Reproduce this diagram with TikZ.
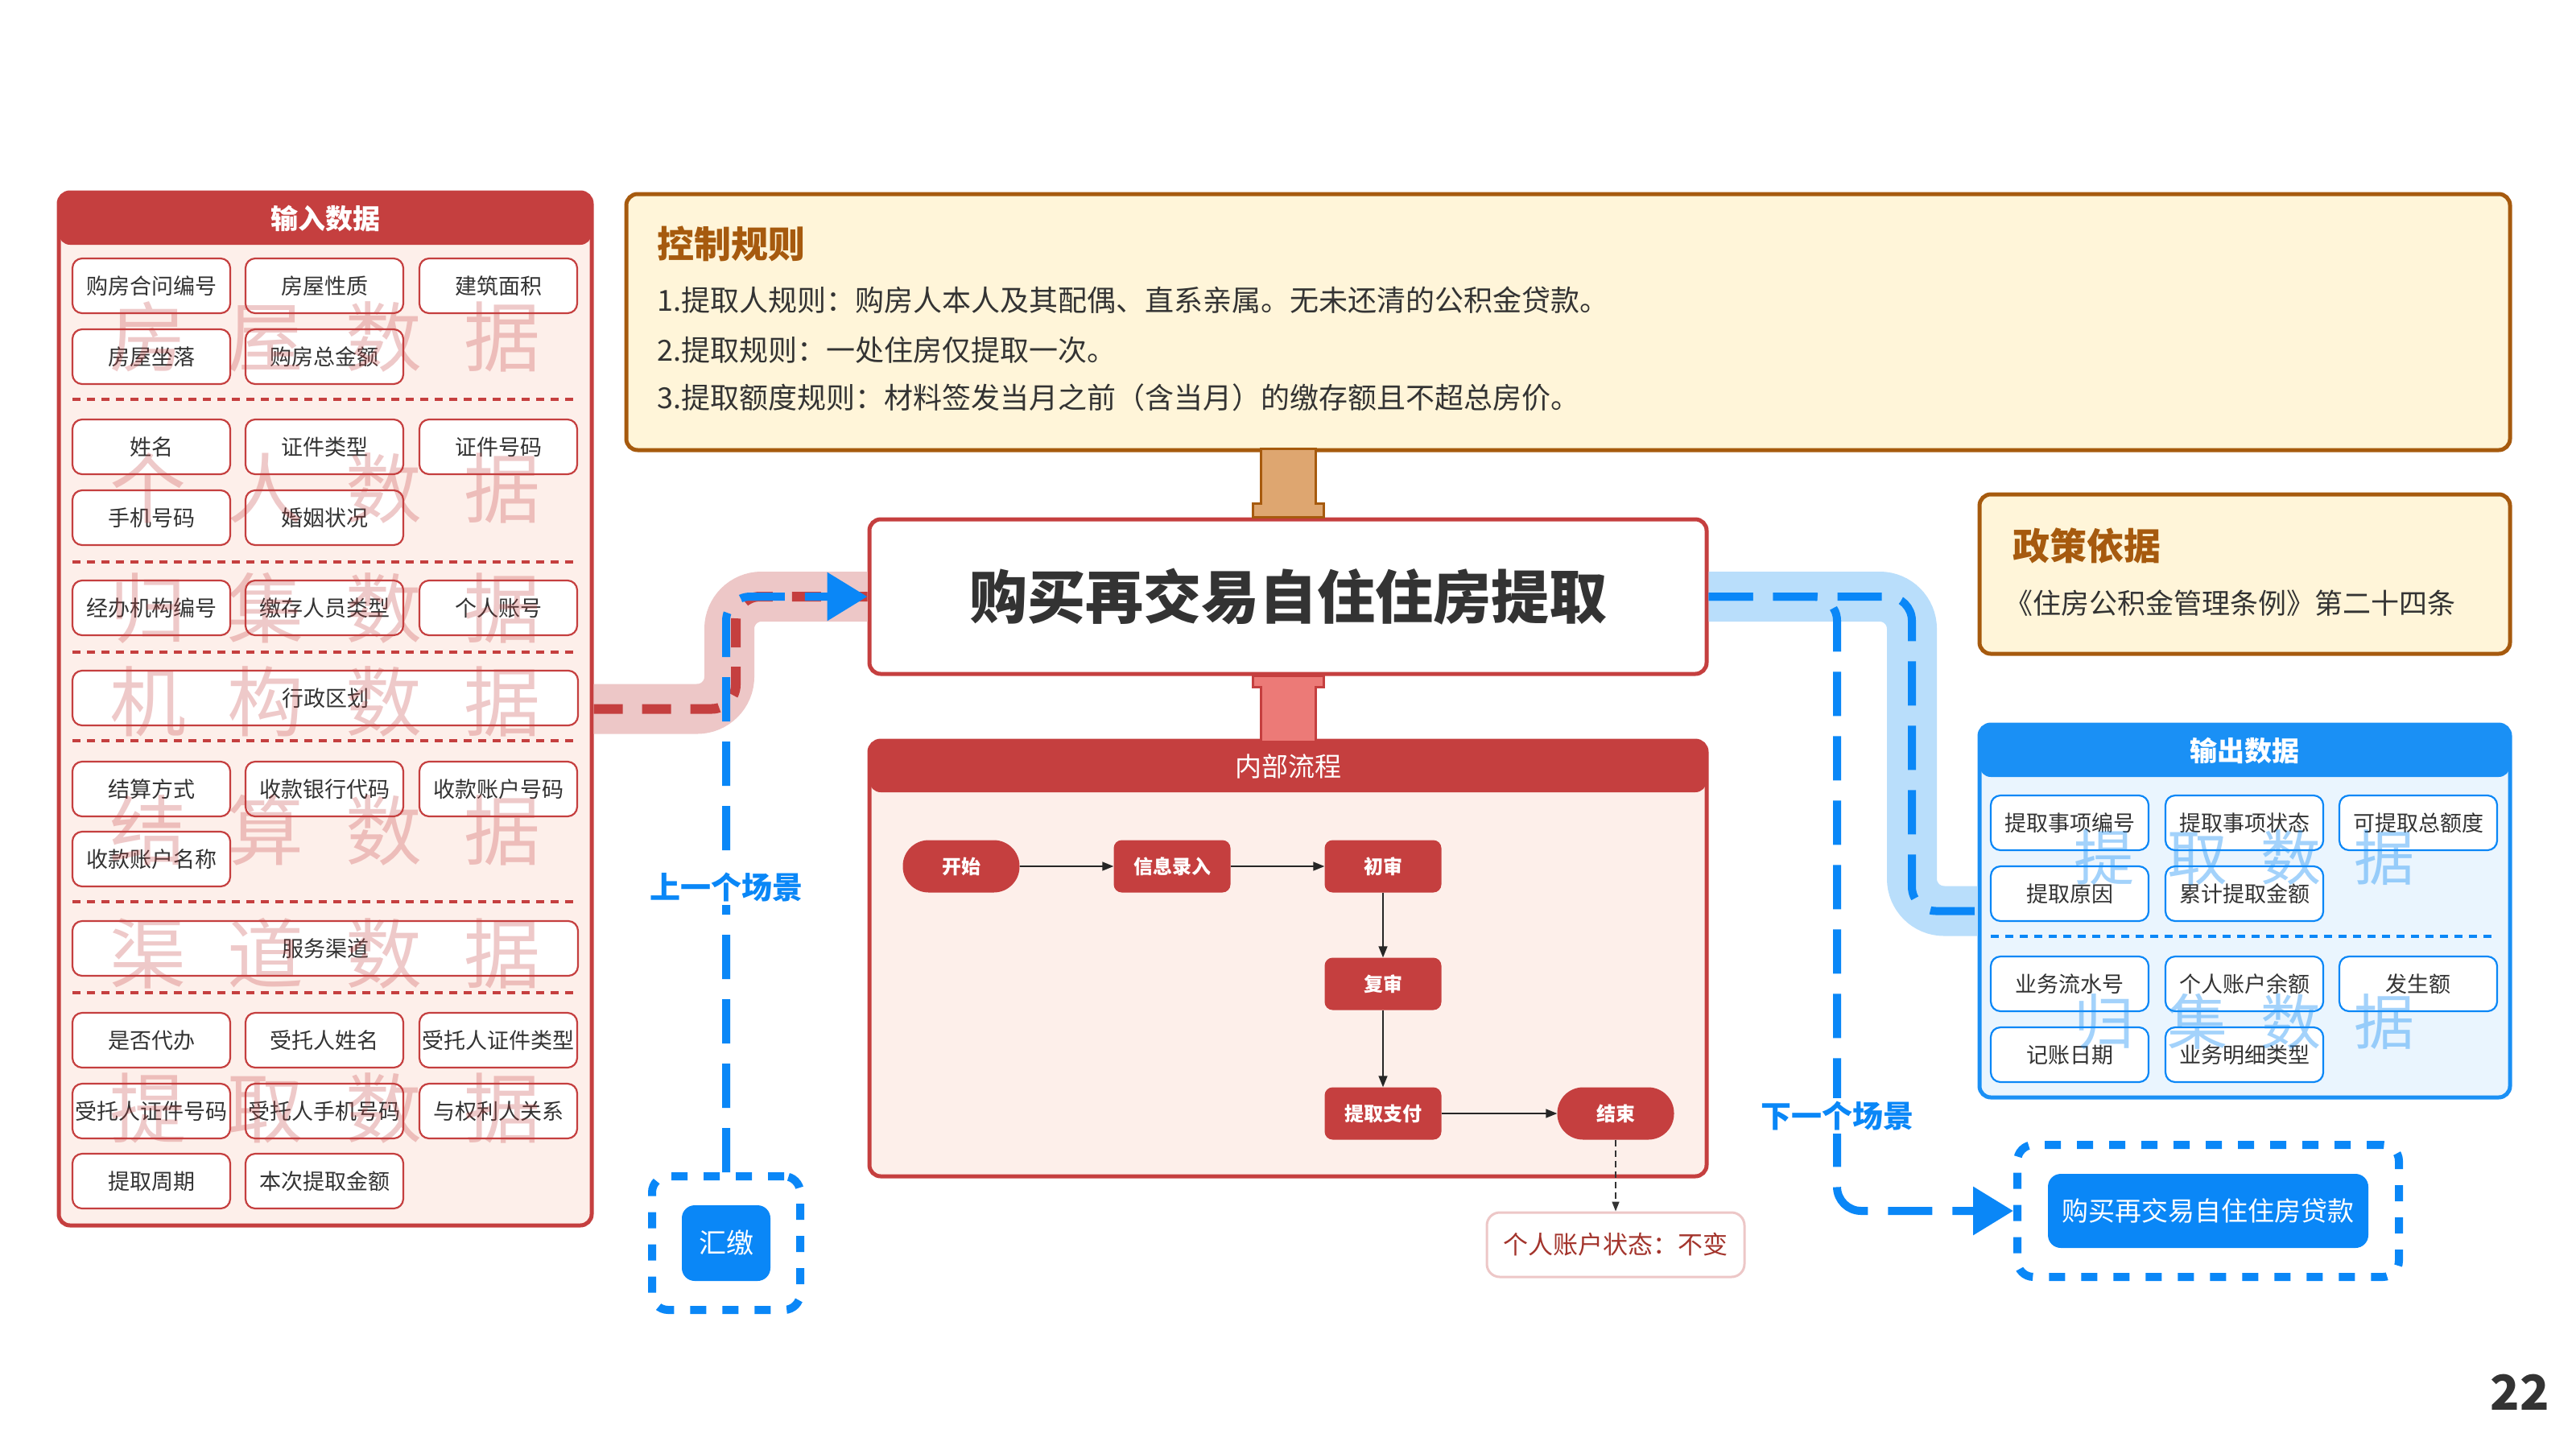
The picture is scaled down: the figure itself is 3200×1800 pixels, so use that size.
\documentclass[tikz,border=0pt]{standalone}
\usepackage{fontspec}
\newfontfamily\cjk{Noto Sans CJK SC}
\usetikzlibrary{arrows.meta}
\definecolor{redmain}{HTML}{C53F3F}
\definecolor{redlight}{HTML}{FDEFEA}
\definecolor{pinkband}{HTML}{EDC7C7}
\definecolor{salmon}{HTML}{EC7A77}
\definecolor{brownc}{HTML}{A65A0E}
\definecolor{tanc}{HTML}{DEA670}
\definecolor{yellowc}{HTML}{FFF5D9}
\definecolor{bluemain}{HTML}{0A87F7}
\definecolor{bluehead}{HTML}{1A90F5}
\definecolor{bluelight}{HTML}{EAF5FE}
\definecolor{blueband}{HTML}{B9DEFB}
\definecolor{txt}{HTML}{333333}
\definecolor{statustxt}{HTML}{A3342C}
\newcommand\myfs[1]{\fontsize{#1}{#1}\selectfont}
\begin{document}
\begin{tikzpicture}[x=1pt,y=-1pt,
 panel/.style={rounded corners=14, line width=5, inner sep=0},
 item/.style={draw=redmain, line width=2.2, fill=white, rounded corners=12, minimum width=196, minimum height=68, inner sep=0, font=\cjk\myfs{27}, text=txt},
 wideitem/.style={item, minimum width=628},
 oitem/.style={item, draw=bluemain},
 wmr/.style={font=\cjk\myfs{95}, text=redmain, opacity=0.28, inner sep=0},
 wmb/.style={font=\cjk\myfs{75}, text=bluehead, opacity=0.4, inner sep=0},
 sepr/.style={redmain, line width=4, dash pattern=on 10pt off 8pt},
 sepb/.style={bluemain, line width=4, dash pattern=on 10pt off 8pt},
 proc/.style={fill=redmain, rounded corners=10, minimum width=145, minimum height=65, inner sep=0, text=white, font=\cjk\bfseries\myfs{24}},
 term/.style={proc, rounded corners=32},
 parr/.style={-{Triangle[length=14pt,width=11pt]}, line width=1.5, black!85},
 bdash/.style={bluemain, line width=10, dash pattern=on 55pt off 25pt, rounded corners=30},
 rdash/.style={redmain, line width=12, dash pattern=on 36pt off 24pt, rounded corners=30},
 bigtip/.style={-{Triangle[length=50pt,width=58pt]}},
 hdr/.style={text=white, font=\cjk\bfseries\myfs{34}},
 scen/.style={text=bluemain, font=\cjk\bfseries\myfs{38}, fill=white, inner sep=4},
 dbox/.style={draw=bluemain, line width=10, dash pattern=on 20pt off 20pt, rounded corners=20, minimum width=#1, minimum height=164, inner sep=0},
 sbox/.style={fill=bluemain, rounded corners=16, text=white, inner sep=0, font=\cjk\myfs{33}},
 rule/.style={anchor=west, text=txt, font=\cjk\myfs{36}, inner sep=0},
 rtitle/.style={anchor=west, text=brownc, font=\cjk\bfseries\myfs{46}, inner sep=0}
]
\useasboundingbox (0,0) rectangle (3200,1800);
\fill[white] (0,0) rectangle (3200,1800);

% ---------- main title box ----------
\node[draw=redmain, line width=5, fill=white, rounded corners=14, minimum width=1040, minimum height=192, inner sep=0] (title) at (1600,741) {};
\node[text=txt, font=\cjk\bfseries\myfs{72}] (titletext) at (title.center) {购买再交易自住住房提取};

% ---------- control rules ----------
\node[draw=brownc, line width=5, fill=yellowc, rounded corners=14, minimum width=2340, minimum height=318, inner sep=0] (ctrl) at (1948,400) {};
\node[rtitle] (ctrltitle) at (816,303) {控制规则};
\node[rule] (rule1) at (816,373) {1.提取人规则：购房人本人及其配偶、直系亲属。无未还清的公积金贷款。};
\node[rule] (rule2) at (816,435) {2.提取规则：一处住房仅提取一次。};
\node[rule] (rule3) at (816,494) {3.提取额度规则：材料签发当月之前（含当月）的缴存额且不超总房价。};

% stubs
\draw[brownc, line width=3, fill=tanc] (title.north) ++(-44,0) -- ++(88,0) -- ++(0,-17) -- ++(-10,0) -- ++(0,-68) -- ++(-68,0) -- ++(0,68) -- ++(-10,0) -- cycle;

% ---------- policy ----------
\node[draw=brownc, line width=5, fill=yellowc, rounded corners=14, minimum width=659, minimum height=198, inner sep=0] (policy) at (2788.5,713) {};
\node[rtitle] (poltitle) at (2500,678) {政策依据};
\node[rule, font=\cjk\myfs{35}] (poltext) at (2490,749) {《住房公积金管理条例》第二十四条};

% ---------- input panel ----------
\node[panel, draw=redmain, fill=redlight, minimum width=662, minimum height=1283,
  path picture={\fill[redmain] (path picture bounding box.north west) rectangle ([yshift=-65pt]path picture bounding box.north east);}] (inpanel) at (404,880.5) {};
\node[hdr] (inhdr) at (404,272) {输入数据};

\node[item] (i1) at (188,355) {购房合问编号};
\node[item] (i2) at (403,355) {房屋性质};
\node[item] (i3) at (619,355) {建筑面积};
\node[item] (i4) at (188,443) {房屋坐落};
\node[item] (i5) at (403,443) {购房总金额};
\node[item] (i6) at (188,555) {姓名};
\node[item] (i7) at (403,555) {证件类型};
\node[item] (i8) at (619,555) {证件号码};
\node[item] (i9) at (188,643) {手机号码};
\node[item] (i10) at (403,643) {婚姻状况};
\node[item] (i11) at (188,755) {经办机构编号};
\node[item] (i12) at (403,755) {缴存人员类型};
\node[item] (i13) at (619,755) {个人账号};
\node[wideitem] (i14) at (404,867) {行政区划};
\node[item] (i15) at (188,980) {结算方式};
\node[item] (i16) at (403,980) {收款银行代码};
\node[item] (i17) at (619,980) {收款账户号码};
\node[item] (i18) at (188,1067) {收款账户名称};
\node[wideitem] (i19) at (404,1178) {服务渠道};
\node[item] (i20) at (188,1292) {是否代办};
\node[item] (i21) at (403,1292) {受托人姓名};
\node[item] (i22) at (619,1292) {受托人证件类型};
\node[item] (i23) at (188,1380) {受托人证件号码};
\node[item] (i24) at (403,1380) {受托人手机号码};
\node[item] (i25) at (619,1380) {与权利人关系};
\node[item] (i26) at (188,1467) {提取周期};
\node[item] (i27) at (403,1467) {本次提取金额};

\foreach \yy in {496,698,810,920,1120,1233} \draw[sepr] (90,\yy) -- (718,\yy);

\node[wmr] (w1) at (404,418) {房\hspace{52pt}屋\hspace{52pt}数\hspace{52pt}据};
\node[wmr] (w2) at (404,606) {个\hspace{52pt}人\hspace{52pt}数\hspace{52pt}据};
\node[wmr] (w3) at (404,755) {归\hspace{52pt}集\hspace{52pt}数\hspace{52pt}据};
\node[wmr] (w4) at (404,871) {机\hspace{52pt}构\hspace{52pt}数\hspace{52pt}据};
\node[wmr] (w5) at (404,1031) {结\hspace{52pt}算\hspace{52pt}数\hspace{52pt}据};
\node[wmr] (w6) at (404,1184) {渠\hspace{52pt}道\hspace{52pt}数\hspace{52pt}据};
\node[wmr] (w7) at (404,1376) {提\hspace{52pt}取\hspace{52pt}数\hspace{52pt}据};

% ---------- process panel ----------
\node[panel, draw=redmain, fill=redlight, minimum width=1040, minimum height=541,
  path picture={\fill[redmain] (path picture bounding box.north west) rectangle ([yshift=-64pt]path picture bounding box.north east);}] (ppanel) at (1600,1190.5) {};
\node[text=white, font=\cjk\myfs{33}] (phdr) at (1600,952) {内部流程};

\draw[redmain, line width=3, fill=salmon] (title.south) ++(-44,0) -- ++(88,0) -- ++(0,14) -- ++(-10,0) -- ++(0,68) -- ++(-68,0) -- ++(0,-68) -- ++(-10,0) -- cycle;

\node[term] (start) at (1194,1076) {开始};
\node[proc] (entry) at (1456,1076) {信息录入};
\node[proc] (first) at (1718,1076) {初审};
\node[proc] (second) at (1718,1222) {复审};
\node[proc] (pay) at (1718,1383) {提取支付};
\node[term] (end) at (2007,1383) {结束};
\draw[parr] (start) -- (entry);
\draw[parr] (entry) -- (first);
\draw[parr] (first) -- (second);
\draw[parr] (second) -- (pay);
\draw[parr] (pay) -- (end);

\node[draw=pinkband, line width=3, fill=white, rounded corners=16, minimum width=320, minimum height=80, inner sep=0, text=statustxt, font=\cjk\myfs{31}] (status) at (2007,1546) {个人账户状态：不变};
\draw[-{Triangle[length=12pt,width=9pt]}, line width=1.5, black!80, dash pattern=on 8pt off 5pt] (end) -- (status);

% ---------- output panel ----------
\node[panel, draw=bluehead, fill=bluelight, minimum width=659, minimum height=463,
  path picture={\fill[bluehead] (path picture bounding box.north west) rectangle ([yshift=-65pt]path picture bounding box.north east);}] (outpanel) at (2788.5,1131.5) {};
\node[hdr] (outhdr) at (2788,933) {输出数据};
\node[oitem] (o1) at (2571,1022) {提取事项编号};
\node[oitem] (o2) at (2788,1022) {提取事项状态};
\node[oitem] (o3) at (3004,1022) {可提取总额度};
\node[oitem] (o4) at (2571,1110) {提取原因};
\node[oitem] (o5) at (2788,1110) {累计提取金额};
\node[oitem] (o6) at (2571,1222) {业务流水号};
\node[oitem] (o7) at (2788,1222) {个人账户余额};
\node[oitem] (o8) at (3004,1222) {发生额};
\node[oitem] (o9) at (2571,1310) {记账日期};
\node[oitem] (o10) at (2788,1310) {业务明细类型};
\draw[sepb] (2473,1163) -- (3102,1163);
\node[wmb] (wb1) at (2788,1065) {提\hspace{41pt}取\hspace{41pt}数\hspace{41pt}据};
\node[wmb] (wb2) at (2788,1269) {归\hspace{41pt}集\hspace{41pt}数\hspace{41pt}据};

% ---------- scenario boxes ----------
\node[dbox=184, minimum height=166] (hjbox) at (902,1544) {};
\node[sbox, minimum width=110, minimum height=94, font=\cjk\myfs{34}] (hj) at (hjbox.center) {汇缴};
\node[dbox=474] (nextbox) at (2743,1504) {};
\node[sbox, minimum width=398, minimum height=92] (next) at (nextbox.center) {购买再交易自住住房贷款};

% ---------- connectors ----------
\coordinate (lbx) at (906,0);
\coordinate (rbx) at (2375,0);
\coordinate (nbx) at (2282,0);
\coordinate (bbx) at (902,0);
\draw[pinkband, line width=62, rounded corners=40] (inpanel.east) -- (inpanel.east -| lbx) -- (title.west -| lbx) -- (title.west);
\draw[blueband, line width=62, rounded corners=40] (title.east) -- (title.east -| rbx) -- (outpanel.west -| rbx) -- (outpanel.west);
\draw[rdash] (inpanel.east) -- ([xshift=8pt]inpanel.east -| lbx) -- ([xshift=8pt]title.west -| lbx) -- (title.west);
\draw[bdash, bigtip] (hjbox.north) -- (title.west -| bbx) -- (title.west);
\draw[bdash] (title.east) -- (title.east -| rbx) -- (outpanel.west -| rbx) -- (outpanel.west);
\draw[bdash, bigtip] (title.east) -- (title.east -| nbx) -- (nextbox.west -| nbx) -- (nextbox.west);

\node[scen] (prevlabel) at (902,1102) {上一个场景};
\node[scen] (nextlabel) at (2282,1386) {下一个场景};

% page number
\node[text=txt, font=\cjk\bfseries\myfs{60}] (pageno) at (3130,1729) {22};
\end{tikzpicture}
\end{document}
